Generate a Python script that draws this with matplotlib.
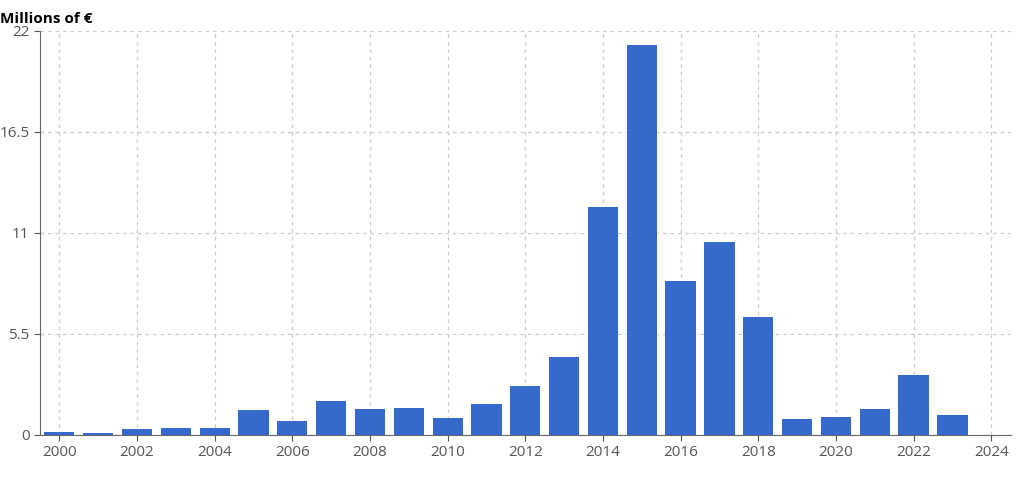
import matplotlib.pyplot as plt

plt.rcParams['font.family'] = ['Open Sans', 'DejaVu Sans']

years = list(range(2000, 2024))
values = [0.15, 0.12, 0.3, 0.38, 0.38, 1.35, 0.75, 1.85, 1.4, 1.45, 0.9, 1.7,
          2.65, 4.25, 12.4, 21.2, 8.35, 10.5, 6.4, 0.85, 0.97, 1.4, 3.27, 1.08]
yticks = [0, 5.5, 11, 16.5, 22]

fig = plt.figure(figsize=(10.24, 4.8), dpi=100)
ax = fig.add_axes([0.039, 0.094, 0.948, 0.842])
ax.bar(years, values, width=0.78, color='#3769cc', zorder=3)

ax.set_xlim(1999.5, 2024.5)
ax.set_ylim(0, 22)
ax.set_xticks(range(2000, 2025, 2))
ax.set_yticks(yticks)
ax.set_yticklabels(['0', '5.5', '11', '16.5', '22'])
ax.grid(True, linestyle=(0, (3, 3)), color='#cccccc', linewidth=0.9, zorder=0)
for s in ['top', 'right']:
    ax.spines[s].set_visible(False)
for s in ['left', 'bottom']:
    ax.spines[s].set_color('#666666')
ax.tick_params(colors='#555555', labelsize=11, length=4)
fig.text(0.0, 0.975, 'Millions of €', fontsize=11, fontweight='bold', va='top', ha='left')

fig.savefig('out.png')
